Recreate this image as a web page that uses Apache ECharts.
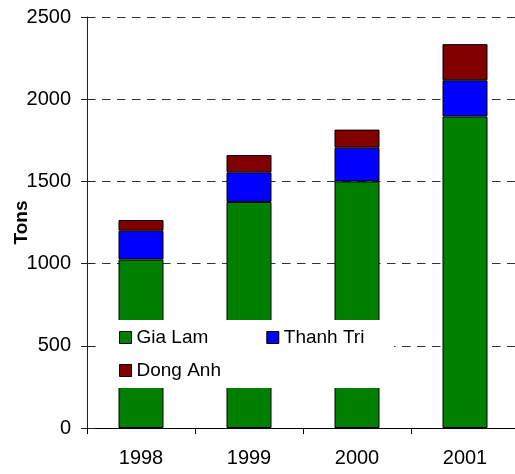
<!DOCTYPE html>
<html>
<head>
<meta charset="utf-8">
<script src="https://cdn.jsdelivr.net/npm/echarts@6/dist/echarts.min.js"></script>
<style>
  html, body { margin: 0; padding: 0; background: #fff; }
  #chart { width: 515px; height: 474px; }
</style>
</head>
<body>
<div id="chart"></div>
<script>
const years = ['1998', '1999', '2000', '2001'];
const giaLam = [1025, 1375, 1500, 1895];
const thanhTri = [175, 180, 205, 220];
const dongAnh = [65, 105, 110, 220];
const yTicks = { min: 0, max: 2500, interval: 500 };

document.addEventListener('DOMContentLoaded', () => {
    const chart = echarts.init(document.getElementById('chart'));
    const font = 'Liberation Sans, Arial, sans-serif';

    // one stacked bar series per district
    const makeSeries = (name, data, color) => ({
        name: name,
        type: 'bar',
        stack: 'total',
        data: data,
        barWidth: 45,
        itemStyle: { color: color, borderColor: '#000', borderWidth: 1 },
        emphasis: { disabled: true }
    });

    const legendText = { fontFamily: font, fontSize: 19, color: '#000' };

    const option = {
        animation: false,
        grid: { left: 87, right: -4, top: 17, bottom: 46, containLabel: false, outerBoundsMode: 'none' },
        xAxis: {
            type: 'category',
            data: years,
            axisLine: { lineStyle: { color: '#000', width: 1 } },
            axisTick: { show: true, length: 6, lineStyle: { color: '#000' } },
            axisLabel: { fontFamily: font, fontSize: 20, color: '#000', margin: 20 }
        },
        yAxis: [{
            type: 'value',
            position: 'left',
            min: yTicks.min,
            max: yTicks.max,
            interval: yTicks.interval,
            name: 'Tons',
            nameLocation: 'middle',
            nameGap: 56,
            nameMoveOverlap: false,
            nameTextStyle: { fontFamily: font, fontSize: 19, fontWeight: 'bold', color: '#000' },
            axisLine: { show: true, lineStyle: { color: '#222', width: 1 } },
            axisTick: { show: true, length: 6, lineStyle: { color: '#222' } },
            axisLabel: {
                fontFamily: font, fontSize: 20, color: '#000', margin: 16,
                formatter: (v) => String(v)
            },
            splitLine: { show: true, lineStyle: { color: '#333', type: [8.5, 6.5], width: 1 } }
        }, {
            // inner half of the crossing tick marks
            type: 'value',
            position: 'left',
            min: yTicks.min,
            max: yTicks.max,
            interval: yTicks.interval,
            axisLine: { show: false },
            axisTick: { show: true, inside: true, length: 8, lineStyle: { color: '#222' } },
            axisLabel: { show: false },
            splitLine: { show: false }
        }],
        graphic: [{
            type: 'rect',
            left: 96,
            top: 320,
            z: 3,
            shape: { width: 298, height: 68 },
            style: { fill: '#fff' }
        }],
        legend: [{
            data: ['Gia Lam', 'Thanh Tri'],
            left: 119,
            top: 328,
            padding: 0,
            itemWidth: 12,
            itemHeight: 12,
            itemGap: 58,
            icon: 'rect',
            selectedMode: false,
            itemStyle: { borderColor: '#000', borderWidth: 1 },
            textStyle: legendText
        }, {
            data: ['Dong Anh'],
            left: 119,
            top: 361,
            padding: 0,
            itemWidth: 12,
            itemHeight: 12,
            icon: 'rect',
            selectedMode: false,
            itemStyle: { borderColor: '#000', borderWidth: 1 },
            textStyle: legendText
        }],
        series: [
            makeSeries('Gia Lam', giaLam, '#008000'),
            makeSeries('Thanh Tri', thanhTri, '#0000ff'),
            makeSeries('Dong Anh', dongAnh, '#800000')
        ]
    };

    chart.setOption(option);
});
</script>
</body>
</html>
